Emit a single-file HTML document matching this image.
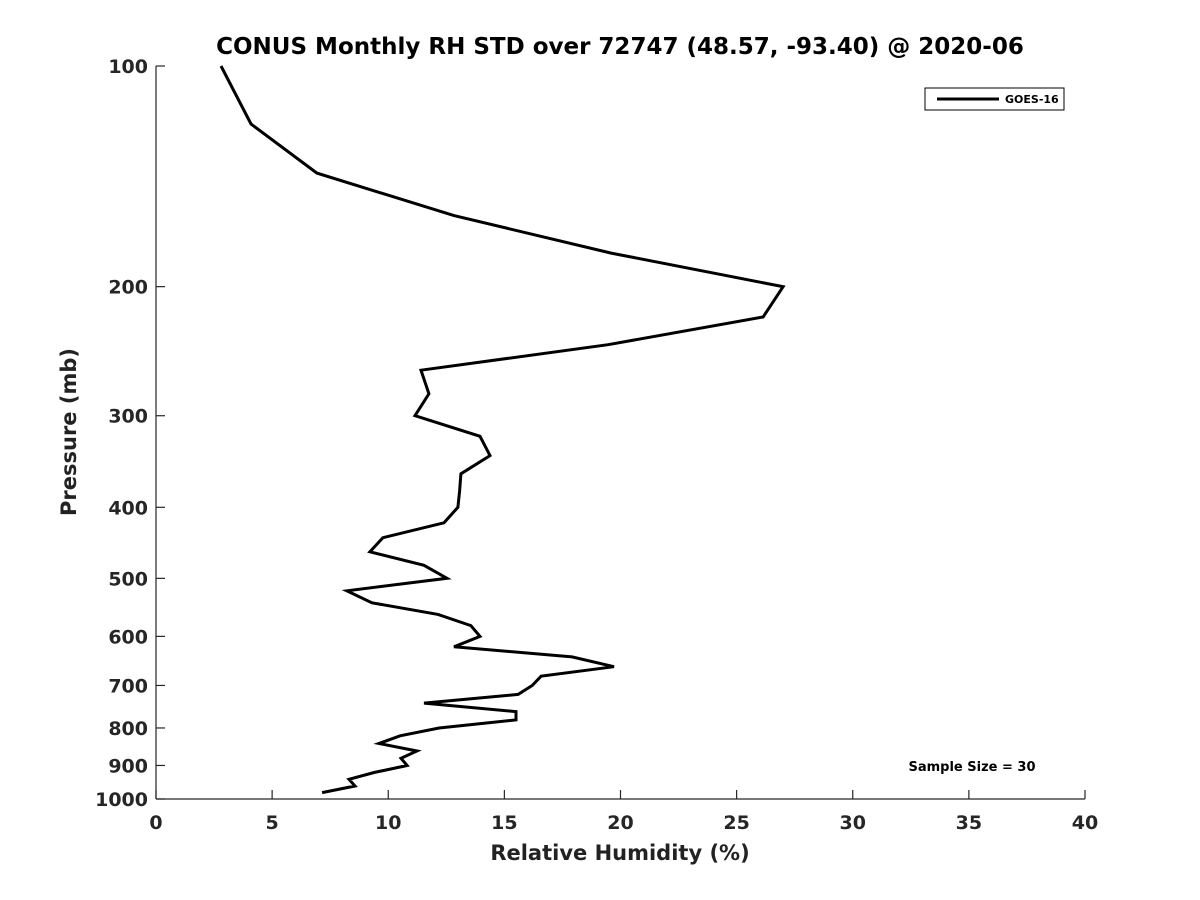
<!DOCTYPE html>
<html><head><meta charset="utf-8"><style>
html,body{margin:0;padding:0;background:#fff;}
svg{display:block;font-family:"DejaVu Sans","Liberation Sans",sans-serif;}
</style></head><body>
<svg id="chart" width="1200" height="900" viewBox="0 0 1200 900">
<rect width="1200" height="900" fill="#fff"/>
<text x="620" y="54" text-anchor="middle" font-size="23" font-weight="bold" fill="#000">CONUS Monthly RH STD over 72747 (48.57, -93.40) @ 2020-06</text>
<g id="axes"></g>
<g id="series"></g>
<g>
<rect x="925" y="88" width="139" height="22" fill="#fff" stroke="#000" stroke-width="1"/>
<line x1="937" y1="99" x2="999" y2="99" stroke="#000" stroke-width="3"/>
<text x="1005" y="103" font-size="11" font-weight="bold">GOES-16</text>
</g>
<text x="972" y="771" text-anchor="middle" font-size="13" font-weight="bold">Sample Size = 30</text>
<text x="620" y="860" text-anchor="middle" font-size="21" font-weight="bold" fill="#222">Relative Humidity (%)</text>
<text transform="translate(76,432) rotate(-90)" text-anchor="middle" font-size="21" font-weight="bold" fill="#222">Pressure (mb)</text>
</svg>
<script>
const pressures = [100,120,140,160,180,200,220,240,260,280,300,320,340,360,380,400,420,440,460,480,500,520,540,560,580,600,620,640,660,680,700,720,740,760,780,800,820,840,860,880,900,920,940,960,980];
const rhStd = [2.80,4.09,6.93,12.83,19.6,27.0,26.14,19.46,11.41,11.75,11.15,13.95,14.38,13.13,13.07,13.0,12.4,9.77,9.21,11.54,12.53,8.22,9.30,12.14,13.56,13.95,12.83,17.91,19.72,16.58,16.2,15.59,11.54,15.50,15.50,12.19,10.51,9.60,11.24,10.55,10.81,9.39,8.31,8.57,7.15];
const xTicks = [0,5,10,15,20,25,30,35,40];
const yTicks = [100,200,300,400,500,600,700,800,900,1000];

const X0=156,X1=1085,Y0=66,Y1=799;
const xs = v => X0 + (v-0)/(40-0)*(X1-X0);
const ys = p => Y0 + (Math.log10(p)-2)/(3-2)*(Y1-Y0);
const NS="http://www.w3.org/2000/svg";
const axes=document.getElementById('axes');
function mk(tag,attrs,parent){const e=document.createElementNS(NS,tag);for(const k in attrs)e.setAttribute(k,attrs[k]);parent.appendChild(e);return e;}

const xl=mk('line',{x1:X0,y1:Y1,x2:X1,y2:Y1,stroke:'#262626','stroke-width':1.2},axes);


const yl=mk('line',{x1:X0,y1:Y0,x2:X0,y2:Y1,stroke:'#262626','stroke-width':1.2},axes);



xTicks.forEach(t=>{
  const x=xs(t);
  mk('line',{x1:x,y1:Y1,x2:x,y2:Y1-9,stroke:'#262626','stroke-width':1.2},axes);
  const tx=mk('text',{x:x,y:Y1+30,'text-anchor':'middle','font-size':19,'font-weight':'bold',fill:'#262626'},axes);
  tx.textContent=t;
  
  
});
yTicks.forEach(t=>{
  const y=ys(t);
  mk('line',{x1:X0,y1:y,x2:X0+9,y2:y,stroke:'#262626','stroke-width':1.2},axes);
  const tx=mk('text',{x:X0-8,y:y+7,'text-anchor':'end','font-size':19,'font-weight':'bold',fill:'#262626'},axes);
  tx.textContent=t;
  
  
});

const pts=pressures.map((p,i)=>xs(rhStd[i]).toFixed(1)+','+ys(p).toFixed(1)).join(' ');
const line=mk('polyline',{points:pts,fill:'none',stroke:'#000','stroke-width':3,'stroke-linejoin':'miter'},document.getElementById('series'));


</script>
</body></html>
